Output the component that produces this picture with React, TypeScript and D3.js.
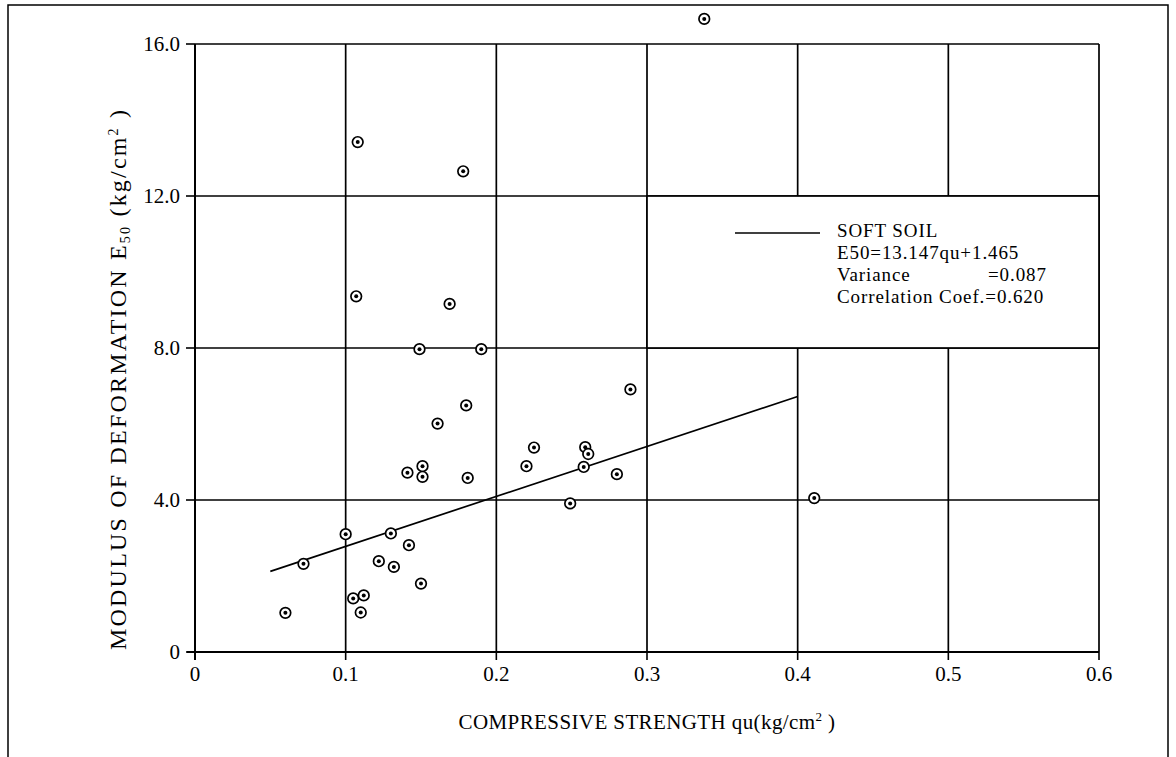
import React from 'react';
import * as d3 from 'd3';

// ---- data ----
const quValues = [
  0.060, 0.072, 0.100, 0.105, 0.112, 0.110, 0.122, 0.130, 0.132, 0.142,
  0.150, 0.141, 0.151, 0.151, 0.161, 0.180, 0.181, 0.289, 0.225, 0.220,
  0.259, 0.261, 0.258, 0.280, 0.249, 0.411, 0.338, 0.108, 0.107, 0.178,
  0.169, 0.149, 0.190,
];
const e50Values = [
  1.03, 2.32, 3.10, 1.41, 1.49, 1.04, 2.39, 3.12, 2.24, 2.81,
  1.80, 4.72, 4.89, 4.61, 6.01, 6.49, 4.58, 6.91, 5.38, 4.89,
  5.39, 5.21, 4.87, 4.68, 3.91, 4.05, 16.66, 13.42, 9.36, 12.65,
  9.16, 7.97, 7.97,
];
const xTicks = [0, 0.1, 0.2, 0.3, 0.4, 0.5, 0.6];
const xTickLabels = ['0', '0.1', '0.2', '0.3', '0.4', '0.5', '0.6'];
const yTicks = [0, 4, 8, 12, 16];
const yTickLabels = ['0', '4.0', '8.0', '12.0', '16.0'];
const fitSlope = 13.147;
const fitIntercept = 1.465;
const fitRange = [0.05, 0.4];
const legendBand = { x0: 0.3, x1: 0.6, y0: 8, y1: 12 };
const legendTitle = 'SOFT SOIL';
const legendEquation = 'E50=13.147qu+1.465';
const legendVarianceLabel = 'Variance';
const legendVarianceValue = '=0.087';
const legendCorrelation = 'Correlation Coef.=0.620';

const FONT = '"Liberation Serif", "Times New Roman", serif';

export default function App() {
  const x = d3.scaleLinear().domain([0, 0.6]).range([195, 1099]);
  const y = d3.scaleLinear().domain([0, 16]).range([652, 44]);

  const fitData = fitRange.map((q) => [q, fitSlope * q + fitIntercept] as [number, number]);
  const fitPath = d3
    .line<[number, number]>()
    .x((d) => x(d[0]))
    .y((d) => y(d[1]))(fitData) as string;

  const lx = x(0.3) + 88;
  const ly = y(12);

  return (
    <svg
      width={1176}
      height={757}
      style={{ position: 'absolute', left: 0, top: 0, background: '#fff' }}
      fontFamily={FONT}
    >
      <rect x={0} y={0} width={1176} height={757} fill="#fff" />
      {/* outer frame */}
      <path d="M8,757 L8,5 L1168,5 L1168,757" fill="none" stroke="#000" strokeWidth={1.5} />

      {/* grid */}
      {xTicks.map((t) => (
        <line key={'gx' + t} x1={x(t)} x2={x(t)} y1={y(0)} y2={y(16)} stroke="#000" strokeWidth={1.7} />
      ))}
      {yTicks.map((t) => (
        <line key={'gy' + t} x1={x(0)} x2={x(0.6)} y1={y(t)} y2={y(t)} stroke="#000" strokeWidth={1.7} />
      ))}

      {/* legend box */}
      <rect
        x={x(legendBand.x0)}
        y={y(legendBand.y1)}
        width={x(legendBand.x1) - x(legendBand.x0)}
        height={y(legendBand.y0) - y(legendBand.y1)}
        fill="#fff"
        stroke="#000"
        strokeWidth={1.7}
      />
      <line x1={lx} x2={lx + 85} y1={ly + 37} y2={ly + 37} stroke="#000" strokeWidth={1.5} />
      <g fontSize={19} letterSpacing={0.9} fill="#000">
        <text x={lx + 102} y={ly + 41}>{legendTitle}</text>
        <text x={lx + 102} y={ly + 63}>{legendEquation}</text>
        <text x={lx + 102} y={ly + 85}>{legendVarianceLabel}</text>
        <text x={lx + 253} y={ly + 85}>{legendVarianceValue}</text>
        <text x={lx + 102} y={ly + 107}>{legendCorrelation}</text>
      </g>

      {/* fit line */}
      <path d={fitPath} fill="none" stroke="#000" strokeWidth={1.7} />

      {/* points */}
      {quValues.map((q, i) => (
        <g key={'p' + i}>
          <circle cx={x(q)} cy={y(e50Values[i])} r={5.3} fill="#fff" stroke="#000" strokeWidth={1.7} />
          <circle cx={x(q)} cy={y(e50Values[i])} r={2} fill="#000" />
        </g>
      ))}

      {/* axes */}
      <line x1={x(0)} x2={x(0)} y1={y(0) + 8} y2={y(16)} stroke="#000" strokeWidth={2} />
      <line x1={x(0) - 8} x2={x(0.6)} y1={y(0)} y2={y(0)} stroke="#000" strokeWidth={2} />
      {yTicks.map((t) => (
        <line key={'ty' + t} x1={x(0) - 9} x2={x(0)} y1={y(t)} y2={y(t)} stroke="#000" strokeWidth={1.6} />
      ))}
      {xTicks.map((t) => (
        <line key={'tx' + t} x1={x(t)} x2={x(t)} y1={y(0)} y2={y(0) + 8} stroke="#000" strokeWidth={1.6} />
      ))}

      <g fontSize={21} fill="#000">
        {yTicks.map((t, i) => (
          <text key={'ly' + t} x={x(0) - 15} y={y(t) + 7} textAnchor="end">
            {yTickLabels[i]}
          </text>
        ))}
        {xTicks.map((t, i) => (
          <text key={'lx' + t} x={x(t)} y={y(0) + 29} textAnchor="middle">
            {xTickLabels[i]}
          </text>
        ))}
      </g>

      {/* axis titles */}
      <text
        x={(x(0) + x(0.6)) / 2}
        y={729}
        textAnchor="middle"
        fontSize={21}
        letterSpacing={0.4}
        fill="#000"
      >
        COMPRESSIVE STRENGTH qu(kg/cm
        <tspan fontSize={13} dy={-8}>2</tspan>
        <tspan dy={8}> )</tspan>
      </text>
      <text
        transform={`translate(126, 650) rotate(-90)`}
        textAnchor="start"
        fontSize={24}
        letterSpacing={2.2}
        fill="#000"
      >
        MODULUS OF DEFORMATION E
        <tspan fontSize={14} dy={4}>50</tspan>
        <tspan dy={-4}> (kg/cm</tspan>
        <tspan fontSize={14} dy={-8}>2</tspan>
        <tspan dy={8}> )</tspan>
      </text>
    </svg>
  );
}
